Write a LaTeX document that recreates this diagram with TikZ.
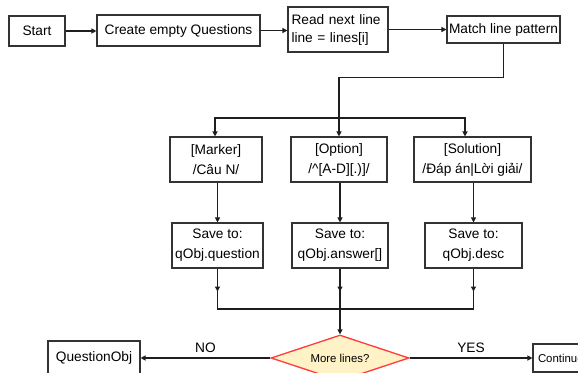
\documentclass[tikz,border=0pt]{standalone}
\usepackage{fontspec}
\setmainfont{Liberation Sans}
\usetikzlibrary{arrows.meta,shapes.geometric}
\definecolor{inkline}{HTML}{1E1E1E}
\definecolor{boxline}{HTML}{333333}
\definecolor{decfill}{HTML}{FFF2C6}
\definecolor{decline}{HTML}{FF3A3A}
\tikzset{
  box/.style={draw=boxline, line width=1.1pt, inner sep=0pt, align=center,
    font=\fontsize{13.7}{20}\selectfont},
  flow/.style={draw=inkline, line width=1.2pt},
  arr/.style={flow, -{Triangle[length=5pt,width=5pt]}},
  lbl/.style={font=\fontsize{13.7}{16}\selectfont, inner sep=2pt},
  decision/.style={diamond, aspect=3, draw=decline, fill=decfill, line width=1.3pt,
    inner sep=0pt, font=\fontsize{11.4}{13}\selectfont}
}
\begin{document}
\begin{tikzpicture}[x=1pt,y=-1pt]
\useasboundingbox (0,0) rectangle (578,372);

% top row
\node[box, minimum width=56pt, minimum height=30pt] (start) at (37,31) {Start};
\node[box, minimum width=163pt, minimum height=31pt] (create) at (178.5,30.5) {Create empty Questions};
\node[box, minimum width=100pt, minimum height=45pt, align=left, text width=93pt,
      inner xsep=3.5pt, font=\fontsize{13.7}{18}\selectfont] (read) at (338,29.5)
      {Read next line\\line = lines[i]};
\node[box, minimum width=113pt, minimum height=27pt] (match) at (503.5,29.5) {Match line pattern};

% pattern row
\node[box, minimum width=92pt, minimum height=45pt] (marker) at (216,159.5) {{[Marker]}\\/Câu N/};
\node[box, minimum width=96pt, minimum height=45pt] (option) at (339,159.5) {{[Option]}\\/\textasciicircum[A-D][.)]/};
\node[box, minimum width=117pt, minimum height=45pt] (solution) at (472.5,159.5) {{[Solution]}\\/Đáp án|Lời giải/};

% save row
\node[box, minimum width=91pt, minimum height=45pt] (msave) at (217.5,245.5) {Save to:\\qObj.question};
\node[box, minimum width=96pt, minimum height=45pt] (osave) at (340,245.5) {Save to:\\qObj.answer[]};
\node[box, minimum width=97pt, minimum height=45pt] (ssave) at (473.5,245.5) {Save to:\\qObj.desc};

% decision row
\node[decision, minimum width=138pt, minimum height=46pt] (more) at (340,358) {More lines?};
\node[box, minimum width=92pt, minimum height=34pt] (qobj) at (94,358) {QuestionObj};
\node[box, minimum width=80pt, minimum height=28pt, align=left, text width=70pt,
      inner xsep=5pt, font=\fontsize{11.4}{13}\selectfont] (cont) at (573,358) {Continue};

% top row connectors
\draw[arr] (start.east) -- (create.west |- start.east);
\draw[arr] (create.east) -- (read.west |- create.east);
\draw[arr] (read.east) -- (match.west |- read.east);

% dispatch to the patterns
\draw[arr] (match.south) -- ++(0,34) -| (option.north);
\coordinate (split) at (339,118);
\coordinate (solin) at ([xshift=-7.5pt]solution.north);
\draw[arr] (split) -| ([xshift=-1pt]marker.north);
\draw[arr] (split) -| (solin);

% patterns to save steps
\draw[arr] (msave.north |- marker.south) -- (msave.north);
\draw[arr] (osave.north |- option.south) -- (osave.north);
\draw[arr] (ssave.north |- solution.south) -- (ssave.north);

% merge into the decision
\coordinate (join) at (340,309);
\draw[flow] (msave.south) -- (msave.south |- join) -- (ssave.south |- join) -- (ssave.south);
\draw[flow] (osave.south) -- (join);
\draw[arr] (msave.south) -- ++(0,23);
\draw[arr] (osave.south) -- ++(0,23);
\draw[arr] (ssave.south) -- ++(0,23);
\draw[arr] (join) -- (more.north);

% decision outcomes
\draw[arr] (more.west) -- (qobj.east) node[lbl, midway, above=3pt] {NO};
\draw[arr] (more.east) -- (cont.west) node[lbl, midway, above=3pt] {YES};
\end{tikzpicture}
\end{document}
